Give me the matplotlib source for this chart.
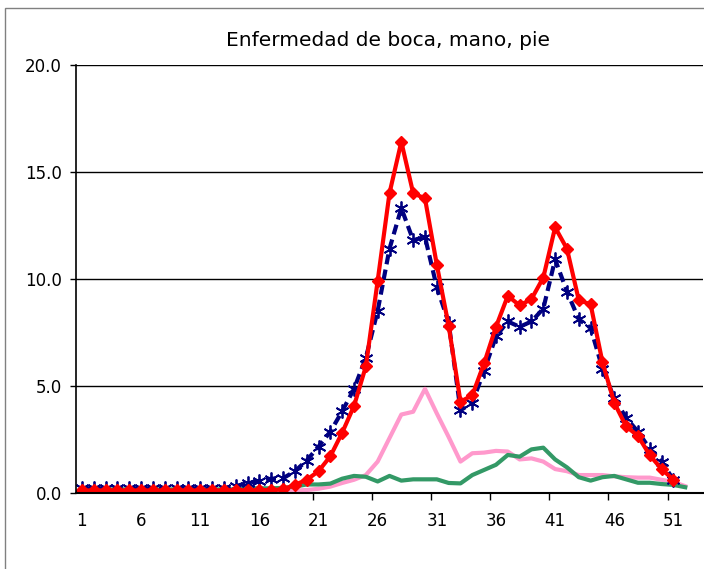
import matplotlib.pyplot as plt
import numpy as np
from matplotlib.patches import Rectangle

# weekly values, weeks 1..52 (None = no data)
weeks = list(range(1, 53))

current = [0.1] * 13 + [
    0.12, 0.1, 0.12, 0.12, 0.15, 0.36, 0.6, 1.0, 1.7, 2.8, 4.05,
    5.9, 9.9, 14.0, 16.4, 14.0, 13.75, 10.65, 7.8, 4.25, 4.55, 6.05,
    7.75, 9.2, 8.75, 9.05, 10.05, 12.4, 11.4, 9.0, 8.8, 6.1, 4.2,
    3.1, 2.65, 1.75, 1.1, 0.6, None,
]

average = [0.2] * 12 + [
    0.22, 0.3, 0.45, 0.55, 0.65, 0.67, 1.0, 1.5, 2.15, 2.85, 3.8,
    4.85, 6.3, 8.5, 11.4, 13.3, 11.8, 11.95, 9.6, 7.95, 3.85, 4.2,
    5.7, 7.3, 8.0, 7.75, 8.0, 8.6, 10.9, 9.4, 8.1, 7.7, 5.8, 4.4,
    3.5, 2.85, 2.05, 1.45, 0.6, None,
]

pink_year = [0.1] * 19 + [
    0.12, 0.18, 0.28, 0.45, 0.6, 0.82, 1.45, 2.55, 3.65, 3.78, 4.85,
    3.7, 2.6, 1.45, 1.84, 1.87, 1.95, 1.92, 1.55, 1.6, 1.45, 1.1,
    1.0, 0.82, 0.82, 0.82, 0.76, 0.72, 0.7, 0.7, 0.6, 0.5, 0.3,
]

green_year = [0.15] * 14 + [
    0.2, 0.2, 0.2, 0.22, 0.28, 0.38, 0.38, 0.42, 0.65, 0.78, 0.74,
    0.52, 0.78, 0.56, 0.62, 0.62, 0.62, 0.45, 0.43, 0.82, 1.06, 1.3,
    1.76, 1.68, 2.02, 2.1, 1.55, 1.18, 0.72, 0.56, 0.72, 0.78, 0.62,
    0.46, 0.46, 0.4, 0.36, 0.25,
]

yticks = [0, 5, 10, 15, 20]
xlabels = list(range(1, 52, 5))


def to_arr(vals):
    return np.array([np.nan if v is None else v for v in vals], dtype=float)


fig = plt.figure(figsize=(7.04, 5.69), dpi=100)
fig.patches.append(Rectangle((5 / 704, -0.1), 1.2, 1 - 8 / 569 + 0.1,
                             transform=fig.transFigure, fill=False,
                             edgecolor="#808080", linewidth=1.0))

ax = fig.add_axes([76 / 704, 1 - 492.6 / 569, 627 / 704, (492.6 - 64.8) / 569])
x = np.array(weeks)

ax.plot(x, to_arr(pink_year), color="#FF99CC", linewidth=3.0, solid_joinstyle="round")
ax.plot(x, to_arr(green_year), color="#339966", linewidth=3.0, solid_joinstyle="round")
ax.plot(x, to_arr(average), color="#000080", linewidth=3.0, linestyle=(0, (2.4, 1.3)),
        marker=(6, 2, 0), markersize=10, markeredgewidth=1.3, markeredgecolor="#000080")
ax.plot(x, to_arr(current), color="#FF0000", linewidth=3.0, solid_joinstyle="round",
        marker="D", markersize=6, markeredgecolor="#FF0000")

ax.set_xlim(0.5, 53.5)
ax.set_ylim(0, 20)
ax.set_yticks(yticks)
ax.set_yticklabels([f"{v:.1f}" for v in yticks])
ax.set_xticks(xlabels)
ax.set_xticklabels([str(v) for v in xlabels])
ax.set_xticks(np.arange(20.5, 51, 5), minor=True)
ax.tick_params(axis="x", which="major", length=0, pad=14, labelsize=12)
ax.tick_params(axis="x", which="minor", length=5, width=1.0, color="black")
ax.tick_params(axis="y", length=4, width=1.0, pad=6, labelsize=12)

ax.grid(True, axis="y", color="black", linewidth=1.0)
ax.set_axisbelow(True)
for side in ("top", "right"):
    ax.spines[side].set_visible(False)
ax.spines["left"].set_linewidth(1.2)
ax.spines["bottom"].set_linewidth(1.5)
ax.spines["bottom"].set_zorder(3)

fig.text(388 / 704, 1 - 40 / 569, "Enfermedad de boca, mano, pie",
         ha="center", va="center", fontsize=14.5)

fig.savefig("out.png", dpi=100)
